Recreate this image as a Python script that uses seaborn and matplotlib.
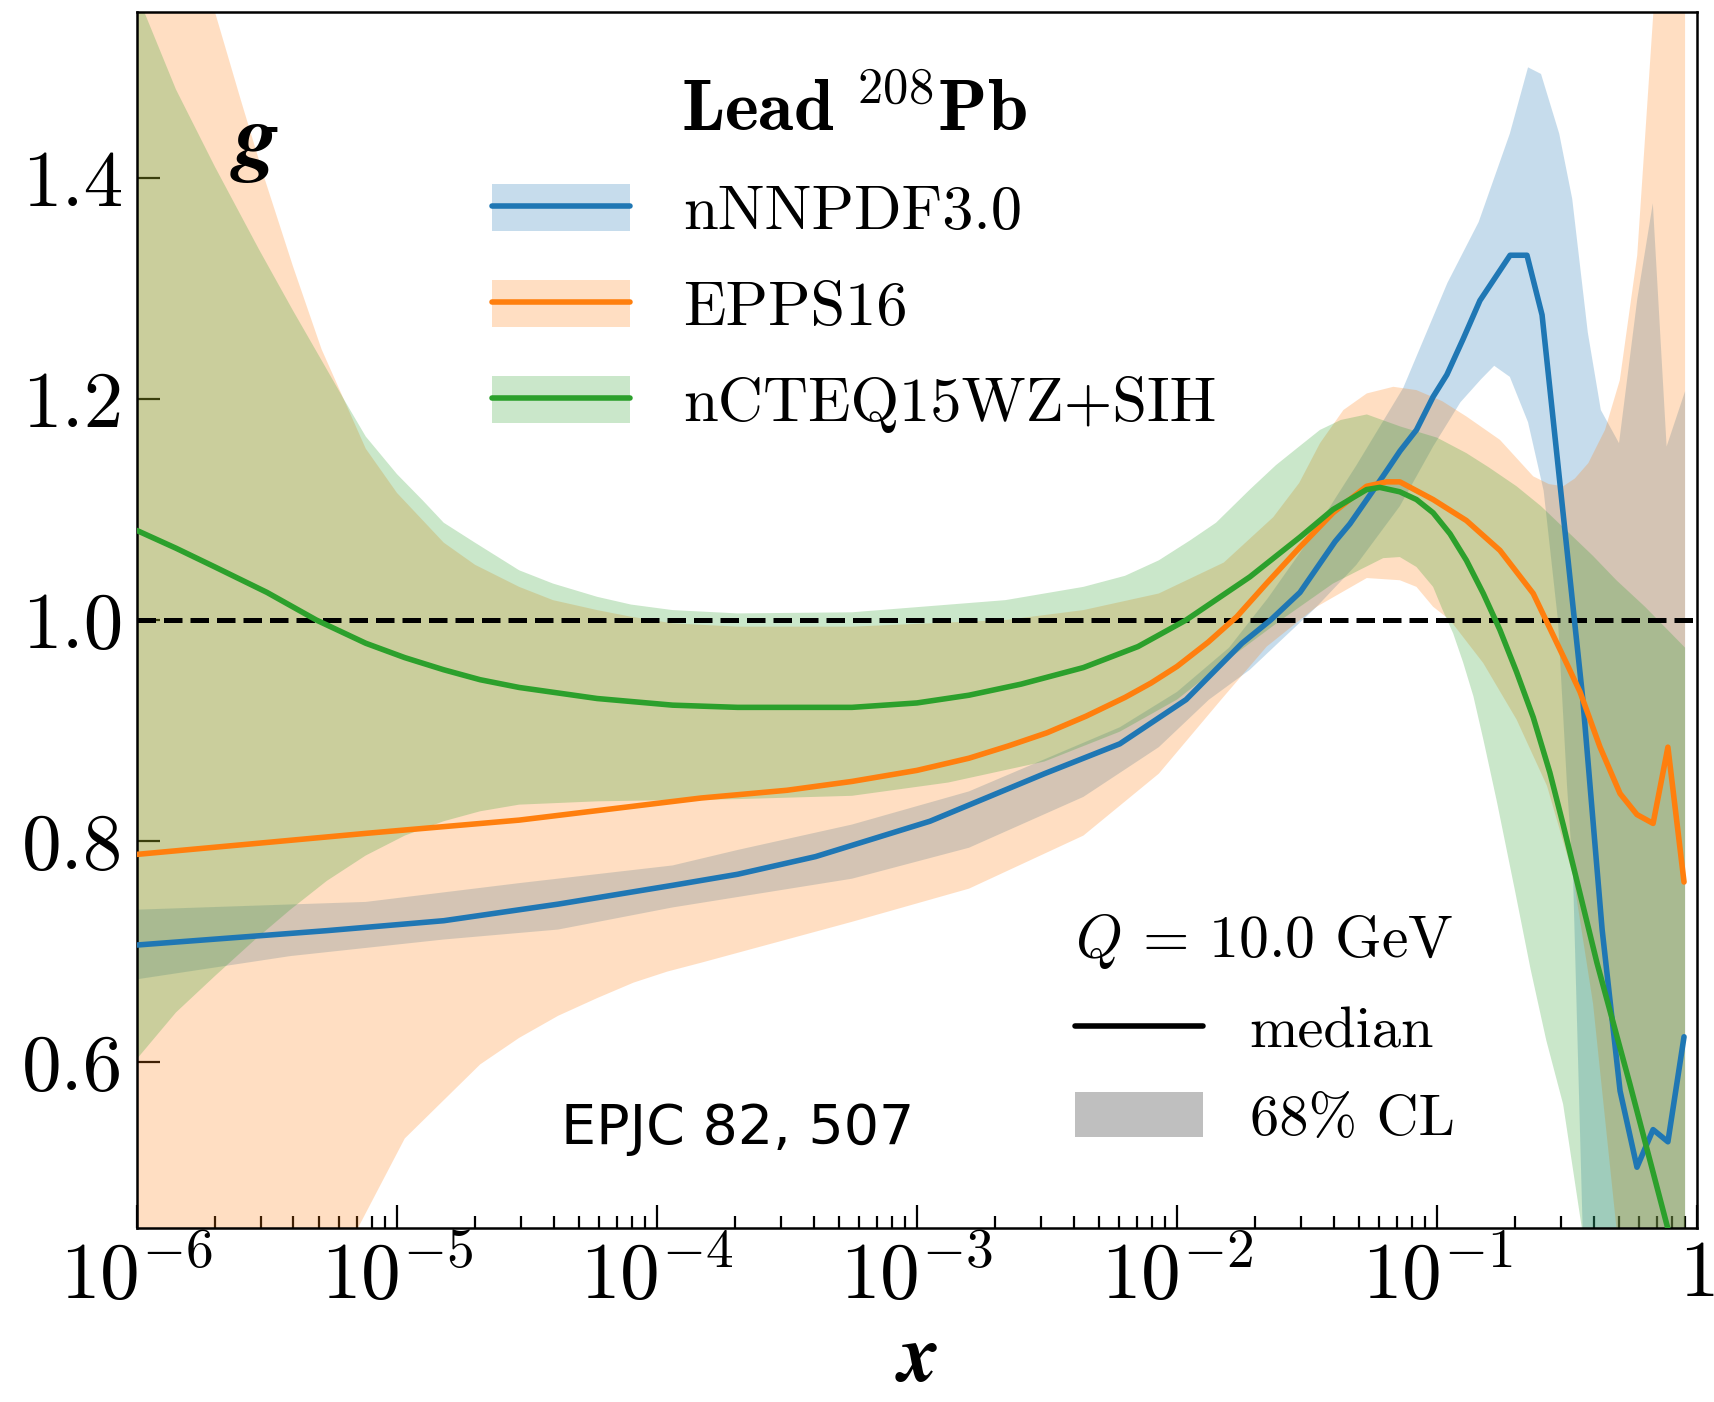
import numpy as np
import pandas as pd
import matplotlib
matplotlib.use("Agg")
import matplotlib.pyplot as plt
import seaborn as sns
from matplotlib.patches import Patch
from matplotlib.lines import Line2D
from matplotlib.legend_handler import HandlerTuple
from matplotlib.ticker import LogLocator, FixedLocator, FixedFormatter, NullFormatter

# ---------------------------------------------------------------------------
# Gluon nuclear modification ratio for 208Pb at Q = 10 GeV (x given as log10 x)
# ---------------------------------------------------------------------------

# nNNPDF3.0
nnpdf_logx = [-6.0, -5.27, -4.82, -4.38, -3.94, -3.69, -3.39, -2.95, -2.51, -2.22,
              -1.965, -1.75, -1.64, -1.527, -1.392, -1.335, -1.208, -1.142, -1.079,
              -1.015, -0.962, -0.90, -0.835, -0.719, -0.654, -0.596, -0.44, -0.365,
              -0.296, -0.231, -0.169, -0.112, -0.05]
nnpdf_median = [0.706, 0.719, 0.728, 0.743, 0.760, 0.770, 0.786, 0.818, 0.861, 0.888,
                0.928, 0.979, 1.000, 1.025, 1.071, 1.087, 1.130, 1.153, 1.172,
                1.202, 1.222, 1.254, 1.289, 1.330, 1.330, 1.276, 0.930, 0.720,
                0.574, 0.505, 0.539, 0.528, 0.623]
nnpdf_up_logx = [-6.0, -5.5, -5.12, -4.53, -3.94, -3.69, -3.25, -2.80, -2.51, -2.22,
                 -2.0, -1.8, -1.65, -1.5, -1.31, -1.13, -0.96, -0.84, -0.72, -0.65,
                 -0.60, -0.53, -0.48, -0.42, -0.37, -0.30, -0.23, -0.17, -0.117, -0.046]
nnpdf_up = [0.738, 0.742, 0.745, 0.762, 0.778, 0.792, 0.815, 0.845, 0.874, 0.903,
            0.935, 0.975, 1.020, 1.070, 1.140, 1.210, 1.305, 1.360, 1.440, 1.500,
            1.494, 1.440, 1.381, 1.260, 1.190, 1.160, 1.290, 1.377, 1.157, 1.207]
nnpdf_lo_logx = [-6.0, -5.41, -4.82, -4.38, -3.94, -3.25, -2.80, -2.36, -2.07, -1.877,
                 -1.72, -1.463, -1.31, -1.143, -1.015, -0.91, -0.83, -0.78, -0.72,
                 -0.65, -0.59, -0.535, -0.50, -0.477, -0.44, -0.40, -0.046]
nnpdf_lo = [0.675, 0.696, 0.711, 0.720, 0.740, 0.766, 0.794, 0.840, 0.885, 0.928,
            0.955, 1.012, 1.050, 1.103, 1.157, 1.197, 1.218, 1.230, 1.220,
            1.179, 1.117, 1.000, 0.850, 0.770, 0.450, 0.200, 0.000]

# EPPS16
epps_logx = [-6.0, -5.12, -4.53, -3.83, -3.5, -3.25, -3.0, -2.8, -2.65, -2.5, -2.35, -2.2,
             -2.1, -2.0, -1.88, -1.77, -1.656, -1.527, -1.4, -1.271, -1.194, -1.143,
             -1.015, -0.887, -0.758, -0.63, -0.5, -0.45, -0.373, -0.296, -0.231,
             -0.169, -0.112, -0.05]
epps_median = [0.788, 0.807, 0.819, 0.839, 0.846, 0.854, 0.864, 0.875, 0.886, 0.898,
               0.913, 0.930, 0.943, 0.958, 0.980, 1.003, 1.033, 1.066, 1.097, 1.121,
               1.125, 1.125, 1.109, 1.090, 1.063, 1.024, 0.960, 0.935, 0.885, 0.843,
               0.824, 0.816, 0.885, 0.763]
epps_up_logx = [-6.0, -5.85, -5.70, -5.60, -5.51, -5.40, -5.29, -5.12, -5.0, -4.9, -4.82,
                -4.7, -4.53, -4.4, -4.23, -4.1, -3.94, -3.69, -3.25, -2.66, -2.36, -2.07,
                -1.82, -1.63, -1.53, -1.45, -1.36, -1.27, -1.168, -1.079, -0.98, -0.886,
                -0.758, -0.63, -0.57, -0.515, -0.47, -0.418, -0.354, -0.297, -0.23,
                -0.165, -0.1, -0.046]
epps_up = [2.00, 1.75, 1.55, 1.47, 1.40, 1.32, 1.245, 1.155, 1.115, 1.090, 1.070,
           1.050, 1.030, 1.018, 1.009, 1.003, 0.997, 0.994, 0.994, 1.000, 1.009, 1.024,
           1.052, 1.093, 1.124, 1.160, 1.190, 1.205, 1.211, 1.208, 1.198, 1.184,
           1.163, 1.130, 1.123, 1.121, 1.128, 1.142, 1.172, 1.217, 1.330,
           1.560, 2.000, 2.400]
epps_lo_logx = [-6.0, -5.6, -5.3, -5.15, -4.97, -4.68, -4.53, -4.38, -4.23, -4.09, -3.96,
                -3.83, -3.25, -2.80, -2.36, -2.07, -1.83, -1.655, -1.463, -1.27, -1.143,
                -1.079, -1.015, -0.95, -0.822, -0.694, -0.577, -0.477, -0.40, -0.31,
                -0.2, -0.046]
epps_lo = [0.00, 0.22, 0.37, 0.45, 0.531, 0.598, 0.622, 0.642, 0.658, 0.672, 0.682,
           0.690, 0.727, 0.757, 0.805, 0.861, 0.928, 0.976, 1.012, 1.038, 1.036,
           1.030, 1.012, 1.000, 0.961, 0.910, 0.850, 0.769, 0.653, 0.450,
           0.200, 0.000]

# nCTEQ15WZ+SIH
ncteq_logx = [-6.0, -5.85, -5.70, -5.5, -5.31, -5.12, -4.97, -4.82, -4.68, -4.53, -4.23,
              -3.94, -3.69, -3.25, -3.0, -2.80, -2.6, -2.36, -2.15, -1.965, -1.72,
              -1.527, -1.4, -1.271, -1.22, -1.143, -1.079, -1.015, -0.95, -0.887,
              -0.822, -0.758, -0.694, -0.63, -0.566, -0.515, -0.385, -0.258, -0.115,
              -0.046]
ncteq_median = [1.081, 1.065, 1.048, 1.025, 1.000, 0.979, 0.966, 0.955, 0.946, 0.939,
                0.929, 0.923, 0.921, 0.921, 0.925, 0.932, 0.942, 0.957, 0.976, 1.000,
                1.039, 1.075, 1.100, 1.118, 1.120, 1.116, 1.109, 1.097, 1.078, 1.054,
                1.024, 0.991, 0.953, 0.912, 0.862, 0.815, 0.690, 0.580, 0.452, 0.390]
ncteq_up_logx = [-6.0, -5.97, -5.85, -5.70, -5.53, -5.4, -5.29, -5.2, -5.12, -5.0, -4.9,
                 -4.82, -4.7, -4.53, -4.4, -4.23, -4.1, -3.94, -3.69, -3.25, -2.66, -2.36,
                 -2.2, -2.07, -1.95, -1.85, -1.72, -1.62, -1.53, -1.45, -1.37, -1.27,
                 -1.14, -1.0, -0.887, -0.8, -0.694, -0.6, -0.502, -0.4, -0.31, -0.2,
                 -0.046]
ncteq_up = [1.575, 1.549, 1.480, 1.410, 1.335, 1.280, 1.235, 1.198, 1.166, 1.132, 1.108,
            1.088, 1.070, 1.045, 1.033, 1.021, 1.014, 1.009, 1.006, 1.007, 1.018, 1.030,
            1.040, 1.054, 1.072, 1.088, 1.118, 1.140, 1.157, 1.172, 1.181, 1.186,
            1.175, 1.165, 1.151, 1.138, 1.121, 1.103, 1.081, 1.058, 1.036, 1.012,
            0.975]
ncteq_lo_logx = [-6.0, -5.85, -5.70, -5.55, -5.41, -5.27, -5.12, -4.97, -4.82, -4.68,
                 -4.53, -4.23, -3.69, -3.25, -2.88, -2.51, -2.22, -2.0, -1.8, -1.6, -1.4,
                 -1.3, -1.207, -1.143, -1.079, -1.015, -0.98, -0.938, -0.9, -0.86, -0.82,
                 -0.77, -0.7, -0.64, -0.58, -0.515, -0.443, -0.3, -0.046]
ncteq_lo = [0.603, 0.645, 0.678, 0.710, 0.738, 0.764, 0.787, 0.805, 0.818, 0.827,
            0.833, 0.836, 0.838, 0.841, 0.853, 0.872, 0.899, 0.928, 0.965, 1.000, 1.033,
            1.045, 1.056, 1.057, 1.048, 1.030, 1.010, 0.988, 0.962, 0.931, 0.890,
            0.836, 0.755, 0.684, 0.620, 0.562, 0.450, 0.250, -0.100]

set_names = ["nNNPDF3.0", "EPPS16", "nCTEQ15WZ+SIH"]
palette = sns.color_palette("tab10", 3)

x_ticks = [1e-6, 1e-5, 1e-4, 1e-3, 1e-2, 1e-1, 1.0]
x_ticklabels = [r"$10^{-6}$", r"$10^{-5}$", r"$10^{-4}$", r"$10^{-3}$",
                r"$10^{-2}$", r"$10^{-1}$", r"$1$"]
y_ticks = [0.6, 0.8, 1.0, 1.2, 1.4]

# ---------------------------------------------------------------------------
sns.set_theme(style="ticks")
plt.rcParams.update({
    "font.family": "serif",
    "font.serif": ["cmr10"],
    "mathtext.fontset": "cm",
    "axes.formatter.use_mathtext": True,
    "axes.edgecolor": "black",
    "axes.linewidth": 0.9,
    "text.color": "black",
    "xtick.color": "black",
    "ytick.color": "black",
    "axes.labelcolor": "black",
})

LW = 2.0

fig = plt.figure(figsize=(8.57, 7.01), dpi=200)
ax = fig.add_axes([0.0799, 0.1241, 0.9102, 0.8673])
ax.set_xscale("log")

curves = [
    (nnpdf_logx, nnpdf_median, nnpdf_up_logx, nnpdf_up, nnpdf_lo_logx, nnpdf_lo),
    (epps_logx, epps_median, epps_up_logx, epps_up, epps_lo_logx, epps_lo),
    (ncteq_logx, ncteq_median, ncteq_up_logx, ncteq_up, ncteq_lo_logx, ncteq_lo),
]

# 68% CL bands: polygon along the upper edge and back along the lower edge
for (lx, med, ux, up, lox, lo), color in zip(curves, palette):
    xs = np.concatenate([10.0 ** np.array(ux), 10.0 ** np.array(lox)[::-1]])
    ys = np.concatenate([np.array(up), np.array(lo)[::-1]])
    ax.fill(xs, ys, color=color, alpha=0.25, lw=0, zorder=1)

# Medians
frames = []
for name, (lx, med, *_rest) in zip(set_names, curves):
    frames.append(pd.DataFrame({"x": 10.0 ** np.array(lx), "ratio": med, "set": name}))
df = pd.concat(frames, ignore_index=True)
sns.lineplot(data=df, x="x", y="ratio", hue="set", hue_order=set_names,
             palette=palette, lw=LW, estimator=None, sort=False,
             legend=False, ax=ax, zorder=3)

ax.axhline(1.0, color="black", ls="--", lw=1.8, zorder=2)

ax.set_xlim(1e-6, 1.0)
ax.set_ylim(0.45, 1.55)
ax.xaxis.set_major_locator(FixedLocator(x_ticks))
ax.xaxis.set_major_formatter(FixedFormatter(x_ticklabels))
ax.xaxis.set_minor_locator(LogLocator(base=10, subs=np.arange(2, 10), numticks=100))
ax.xaxis.set_minor_formatter(NullFormatter())
ax.set_yticks(y_ticks)
ax.set_yticklabels([f"{v:.1f}" for v in y_ticks])
ax.tick_params(which="both", direction="in", top=False, right=False, width=0.8)
ax.tick_params(which="major", length=8.3)
ax.tick_params(which="minor", length=4.3)
ax.tick_params(axis="y", labelsize=28.5, pad=5)
ax.tick_params(axis="x", labelsize=28.5, pad=4.5)
for s in ax.spines.values():
    s.set_linewidth(0.9)
    s.set_color("black")

ax.set_xlabel(r"$\boldsymbol{x}$", fontsize=29, labelpad=4.0)
ax.set_ylabel("")

ax.text(0.0756, 0.8906, r"$\boldsymbol{g}$", transform=ax.transAxes,
        fontsize=32, ha="center", va="center")
ax.text(0.385, 0.0814, "EPJC 82, 507", transform=ax.transAxes,
        fontsize=20, family="DejaVu Sans", ha="center", va="center")

# Legend of the three fits
handles = [(Patch(facecolor=c, alpha=0.25, edgecolor="none"), Line2D([], [], color=c, lw=LW))
           for c in palette]
leg1 = ax.legend(handles, set_names, handler_map={tuple: HandlerTuple(ndivide=1)},
                 title=r"$\mathbf{Lead}\ {}^{208}\mathbf{Pb}$", title_fontsize=26,
                 fontsize=22.5, frameon=False, loc="upper left",
                 bbox_to_anchor=(0.2276, 0.945), borderpad=0, borderaxespad=0,
                 handlelength=2.2, handleheight=0.78, handletextpad=0.86,
                 labelspacing=0.62)
ax.add_artist(leg1)

# Legend explaining line / band meaning
h_med = Line2D([], [], color="black", lw=LW)
h_cl = Patch(facecolor="#bfbfbf", edgecolor="none")
leg2 = ax.legend([h_med, h_cl], ["median", "68% CL"],
                 title=r"$Q$ = 10.0 GeV", title_fontsize=21.5, fontsize=21,
                 frameon=False, loc="upper left", bbox_to_anchor=(0.601, 0.260),
                 borderpad=0, borderaxespad=0, handlelength=2.2, handleheight=0.8,
                 handletextpad=0.8, labelspacing=0.58)

fig.savefig("out.png", dpi=200)
